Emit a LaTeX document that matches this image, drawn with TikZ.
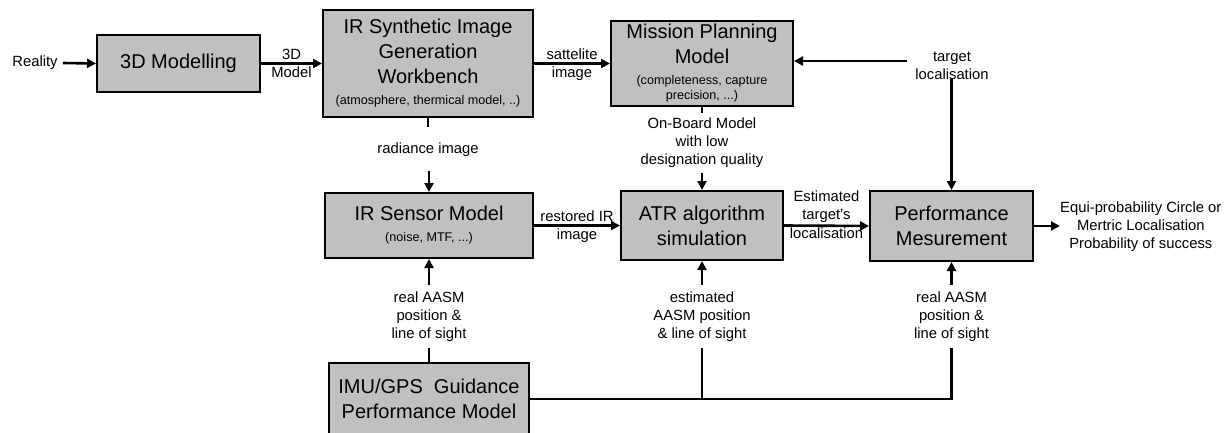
\documentclass[tikz,border=0pt]{standalone}
\usepackage{fontspec}
\setmainfont{Liberation Sans}
\usetikzlibrary{arrows.meta}
\definecolor{boxgray}{HTML}{C0C0C0}
\definecolor{ink}{HTML}{000000}
\newcommand\titlef{\fontsize{20}{25}\selectfont}
\newcommand\subf{\fontsize{12.6}{15}\selectfont}
\newcommand\labf{\fontsize{14.8}{18}\selectfont}
\begin{document}
\begin{tikzpicture}[x=1pt,y=-1pt,
  box/.style={draw=black, line width=2pt, fill=boxgray, inner sep=0pt, align=center, text=ink, font=\titlef},
  conn/.style={line width=2.6pt, -{Triangle[length=9pt,width=9pt]}},
  wire/.style={line width=2.6pt},
  lab/.style={align=center, inner sep=0pt, text=ink, font=\labf},
  gap/.style={lab, minimum width=10pt}]
\useasboundingbox (0,0) rectangle (1231,433);
\clip (0,0) rectangle (1231,433);
% boxes
\node[box, minimum width=163pt, minimum height=57pt] (model3d) at (178.5,63.5) {3D Modelling};
\node[box, minimum width=210pt, minimum height=107pt] (irsyn) at (428,63.5)
  {IR Synthetic Image\\Generation\\Workbench\\[-4pt]{\subf (atmosphere, thermical model, ..)}};
\node[box, minimum width=182pt, minimum height=85pt] (mission) at (702,63.5)
  {Mission Planning\\Model\\[-4pt]{\subf (completeness, capture}\\[-10pt]{\subf precision, ...)}};
\node[box, minimum width=208pt, minimum height=65pt] (sensor) at (429,225.5)
  {IR Sensor Model\\[-4pt]{\subf (noise, MTF, ...)}};
\node[box, minimum width=162pt, minimum height=69pt] (atr) at (702,225.5)
  {ATR algorithm\\simulation};
\node[box, minimum width=163pt, minimum height=70pt] (perf) at (951.5,226)
  {Performance\\Mesurement};
\node[box, minimum width=200pt, minimum height=72pt] (imu) at (429,399)
  {IMU/GPS\ \ Guidance\\Performance Model};
% free texts
\node[lab, inner xsep=5pt] (reality) at (35,63) {Reality};
\node[lab, inner xsep=8pt] (target) at (952,66) {target\\localisation};
\node[lab, anchor=west] (result) at (1060,227) {Equi-probability Circle or\\Mertric Localisation\\Probability of success};
% gap labels on vertical connectors
\node[gap, minimum height=45pt] (rad) at (428,149.5) {radiance image};
\node[gap, minimum height=60pt] (onboard) at (702,143) {On-Board Model\\with low\\designation quality};
\node[gap, minimum height=63pt] (aasmL) at (429,316.5) {real AASM\\position \&\\line of sight};
\node[gap, minimum height=63pt] (aasmM) at (702,316.5) {estimated\\AASM position\\\& line of sight};
\node[gap, minimum height=63pt] (aasmR) at (951.5,316.5) {real AASM\\position \&\\line of sight};
% connectors
\draw[conn] (reality.east) -- (model3d.west);
\draw[conn] (model3d.east) -- (irsyn.west)
  node[lab, midway, above=3pt] {3D} node[lab, midway, below=2pt] {Model};
\draw[conn] (irsyn.east) -- (mission.west)
  node[lab, midway, above=3pt] {sattelite} node[lab, midway, below=2pt] {image};
\draw[conn] ([yshift=5pt]target.west) -- ([yshift=5pt]target.west -| mission.east);
\draw[conn] (target.south) -- (target.south -| perf.north) -- (perf.north);
\draw[wire] (irsyn.south) -- (rad.north);
\draw[conn] (rad.south) -- (rad.south -| sensor.north) -- (sensor.north);
\draw[wire] (mission.south) -- (onboard.north);
\draw[conn] (onboard.south) -- (atr.north);
\draw[conn] (sensor.east) -- (atr.west)
  node[lab, midway, above=3pt] {restored IR} node[lab, midway, below=2pt] {image};
\draw[conn] (atr.east) -- (perf.west)
  node[lab, midway, above=2pt] {Estimated\\target's} node[lab, midway, below=1pt] {localisation};
\draw[conn] (perf.east) -- (result.west |- perf.east);
\draw[wire] (imu.north) -- (aasmL.south);
\draw[conn] (aasmL.north) -- (sensor.south);
\draw[wire] (imu.east) -| (aasmR.south);
\draw[wire] (aasmM.south) -- (aasmM.south |- imu.east);
\draw[conn] (aasmM.north) -- (atr.south);
\draw[conn] (aasmR.north) -- (perf.south);
\end{tikzpicture}
\end{document}
